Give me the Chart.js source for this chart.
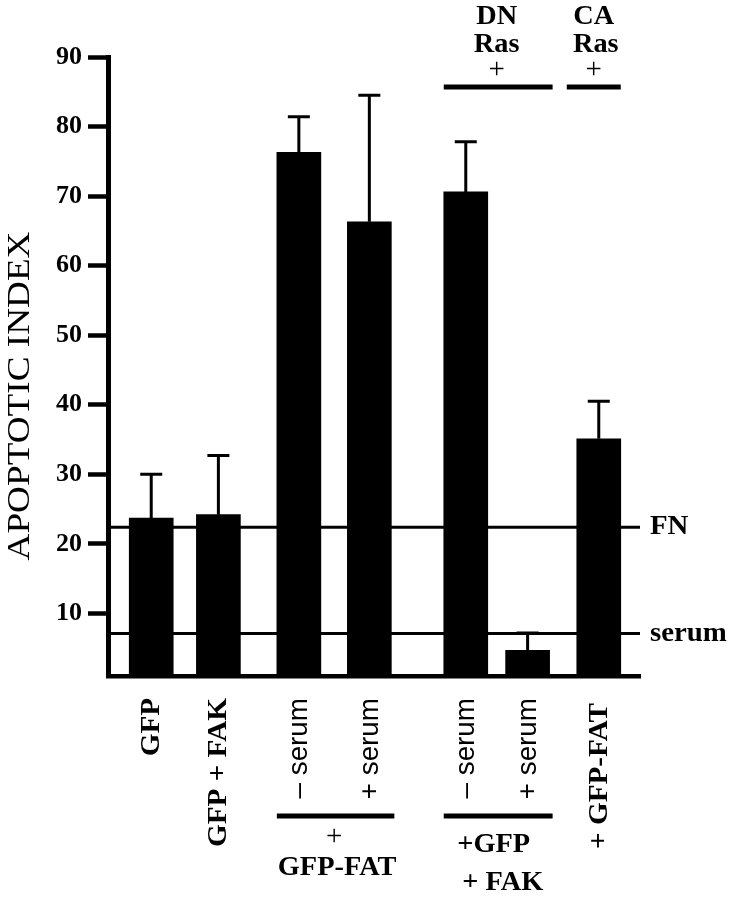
<!DOCTYPE html>
<html>
<head>
<meta charset="utf-8">
<script src="https://cdn.jsdelivr.net/npm/chart.js@4.4.1/dist/chart.umd.min.js"></script>
<style>
  body { margin: 0; background: #fff; }
  canvas { display: block; }
</style>
</head>
<body>
<canvas id="chart" width="740" height="899"></canvas>
<script>
// data
const labels = ["GFP", "GFP + FAK", "\u2013 serum", "+ serum", "\u2013 serum", "+ serum", "+ GFP-FAT"];
const slots = [0.65, 1.66, 2.87, 3.93, 5.38, 6.31, 7.38];
const apoptoticIndex = [23.7, 24.2, 76.3, 66.3, 70.6, 4.7, 35.1];
const errorTop = [30.0, 32.7, 81.4, 84.5, 77.8, 7.2, 40.5];
const yTicks = [10, 20, 30, 40, 50, 60, 70, 80, 90];
const refLines = [{ value: 22.4, label: "FN" }, { value: 7.1, label: "serum" }];

const serif = "'Liberation Serif', 'Times New Roman', serif";
const sans = "'Liberation Sans', Arial, sans-serif";

// text a bit wider than Times, closer to the original face
function wideText(ctx, txt, x, y, stretch) {
    ctx.save();
    ctx.translate(x, y);
    ctx.scale(stretch, 1);
    ctx.fillText(txt, 0, 0);
    ctx.restore();
}

// error bars, reference lines and all the side texts
const extras = {
    id: "extras",
    beforeDatasetsDraw(chart) {
        const { ctx, chartArea, scales: { y } } = chart;
        ctx.save();
        ctx.strokeStyle = "#000";
        ctx.lineWidth = 3;
        refLines.forEach(r => {
            const py = y.getPixelForValue(r.value);
            ctx.beginPath();
            ctx.moveTo(chartArea.left, py);
            ctx.lineTo(chartArea.right, py);
            ctx.stroke();
        });
        ctx.restore();
    },
    afterDatasetsDraw(chart) {
        const { ctx, chartArea, scales: { x, y } } = chart;
        ctx.save();
        ctx.strokeStyle = "#000";
        ctx.fillStyle = "#000";

        // error bars
        ctx.lineWidth = 3;
        slots.forEach((s, i) => {
            const px = x.getPixelForValue(s);
            const top = y.getPixelForValue(errorTop[i]);
            const base = y.getPixelForValue(apoptoticIndex[i]);
            ctx.beginPath();
            ctx.moveTo(px, base);
            ctx.lineTo(px, top);
            ctx.moveTo(px - 11, top);
            ctx.lineTo(px + 11, top);
            ctx.stroke();
        });

        // reference line labels
        ctx.font = "bold 28px " + serif;
        ctx.textAlign = "left";
        ctx.textBaseline = "middle";
        refLines.forEach(r => {
            wideText(ctx, r.label, chartArea.right + 10, y.getPixelForValue(r.value), 1.03);
        });

        // y axis title
        ctx.save();
        ctx.translate(21, 396);
        ctx.rotate(-Math.PI / 2);
        ctx.textAlign = "center";
        ctx.font = "31px " + serif;
        wideText(ctx, "APOPTOTIC INDEX", 0, 0, 1.2);
        ctx.restore();

        // rotated category labels
        labels.forEach((l, i) => {
            const px = x.getPixelForValue(slots[i]);
            const isSerum = l.indexOf("serum") >= 0;
            ctx.save();
            ctx.translate(px + 1, chartArea.bottom + (i === 6 ? 27 : 22));
            ctx.rotate(-Math.PI / 2);
            ctx.textAlign = "right";
            ctx.textBaseline = "middle";
            ctx.font = isSerum ? "27px " + sans : "bold 27px " + serif;
            wideText(ctx, l, 0, 0, isSerum ? 1.03 : 1.08);
            ctx.restore();
        });

        const half = 22;
        const px = i => x.getPixelForValue(slots[i]);

        // group bars
        ctx.lineWidth = 5;
        const bar = (x0, x1, py) => {
            ctx.beginPath();
            ctx.moveTo(x0, py);
            ctx.lineTo(x1, py);
            ctx.stroke();
        };
        bar(px(2) - half, px(3) + half + 3, 816);
        bar(px(4) - half, px(5) + half + 3, 816);
        bar(px(4) - half, px(5) + half + 3, 87);
        bar(px(6) - 32, px(6) + half, 87);

        ctx.textAlign = "center";
        ctx.textBaseline = "middle";
        ctx.font = "bold 27px " + serif;
        const mid1 = (px(2) + px(3)) / 2;
        const mid2 = (px(4) + px(5)) / 2;
        wideText(ctx, "GFP-FAT", mid1 + 3, 868, 1.05);
        wideText(ctx, "+GFP", mid2 - 3, 845, 1.05);
        wideText(ctx, "+ FAK", mid2 + 6, 883, 1.05);
        wideText(ctx, "DN", mid2, 17, 1.05);
        wideText(ctx, "Ras", mid2, 45, 1.05);
        wideText(ctx, "CA", px(6) - 5, 17, 1.05);
        wideText(ctx, "Ras", px(6) - 3, 45, 1.05);
        ctx.font = "29px " + serif;
        ctx.fillText("+", mid1, 837);
        ctx.fillText("+", mid2, 70);
        ctx.fillText("+", px(6) - 5, 70);
        ctx.restore();
    }
};

new Chart(document.getElementById("chart"), {
    type: "bar",
    data: {
        datasets: [{
            data: slots.map((s, i) => ({ x: s, y: apoptoticIndex[i] })),
            backgroundColor: "#000",
            borderWidth: 0,
            barThickness: 44
        }]
    },
    options: {
        responsive: false,
        animation: false,
        devicePixelRatio: 1,
        layout: { padding: { top: 57, right: 100, bottom: 223, left: 0 } },
        plugins: { legend: { display: false }, tooltip: { enabled: false } },
        scales: {
            x: {
                type: "linear",
                offset: false,
                min: 0,
                max: 8,
                ticks: { display: false },
                grid: { display: false },
                border: { display: true, color: "#000", width: 4.5 },
                afterFit: s => { s.height = 0; }
            },
            y: {
                min: 1,
                max: 90,
                afterBuildTicks: s => { s.ticks = yTicks.map(v => ({ value: v })); },
                afterFit: s => { s.width = 108; },
                ticks: {
                    color: "#000",
                    padding: 6,
                    font: { family: serif, size: 26, weight: "bold" }
                },
                grid: {
                    drawOnChartArea: false,
                    drawTicks: true,
                    tickLength: 20,
                    tickWidth: 4.5,
                    tickColor: "#000"
                },
                border: { display: true, color: "#000", width: 5 }
            }
        }
    },
    plugins: [extras]
});
</script>
</body>
</html>
